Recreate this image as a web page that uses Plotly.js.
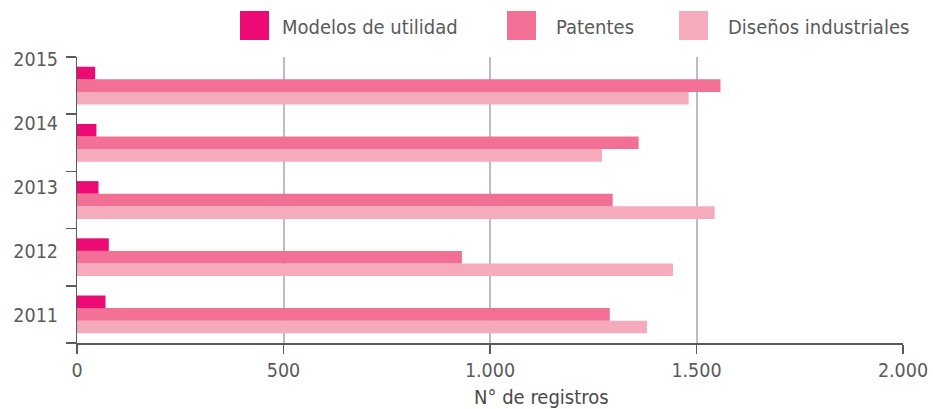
<!DOCTYPE html>
<html>
<head>
<meta charset="utf-8">
<script src="https://cdn.plot.ly/plotly-3.0.1.min.js"></script>
<style>html,body{margin:0;padding:0;background:#fff;}#chart{width:933px;height:409px;}</style>
</head>
<body>
<div id="chart"></div>
<script>
// ---- data ----
var years = ["2011", "2012", "2013", "2014", "2015"];
var yearTicks = [2011, 2012, 2013, 2014, 2015];
var seriesNames = ["Modelos de utilidad", "Patentes", "Diseños industriales"];
var modelos = [69, 77, 52, 47, 44];
var patentes = [1290, 932, 1297, 1360, 1558];
var disenos = [1380, 1443, 1544, 1271, 1481];
var xTickVals = [0, 500, 1000, 1500, 2000];
var xTickText = ["0", "500", "1.000", "1.500", "2.000"];
var xTitle = "N° de registros";

// ---- style ----
var colors = ["#EC0A74", "#F27096", "#F6ABBD"];
var FONT = "'DejaVu Sans Condensed', 'DejaVu Sans', sans-serif";
var TXT = "#5a5a5a";
var W = 933, H = 409;
var M = {l: 77, r: 30, t: 57, b: 66};
var PW = W - M.l - M.r, PH = H - M.t - M.b;
function px2x(px) { return (px - M.l) / PW; }
function py2y(py) { return (H - M.b - py) / PH; }

var traces = [
  {type: "bar", orientation: "h", name: seriesNames[2], y: years, x: disenos,
   marker: {color: colors[2]}, showlegend: false, hoverinfo: "x+name"},
  {type: "bar", orientation: "h", name: seriesNames[1], y: years, x: patentes,
   marker: {color: colors[1]}, showlegend: false, hoverinfo: "x+name"},
  {type: "bar", orientation: "h", name: seriesNames[0], y: years, x: modelos,
   marker: {color: colors[0]}, showlegend: false, hoverinfo: "x+name"},
  {type: "scatter", mode: "markers", x: [null], y: [null], yaxis: "y2",
   showlegend: false, hoverinfo: "skip", marker: {opacity: 0}}
];

// custom legend (large swatches like the reference)
var legendSw = [[240, 269], [507, 536], [679, 708]];
var legendTx = [280, 554, 726];
var shapes = [], annotations = [];
for (var i = 0; i < 3; i++) {
  shapes.push({type: "rect", xref: "paper", yref: "paper",
    x0: px2x(legendSw[i][0]), x1: px2x(legendSw[i][1]),
    y0: py2y(40), y1: py2y(11), fillcolor: colors[i], line: {width: 0}});
  annotations.push({xref: "paper", yref: "paper", x: px2x(legendTx[i]), y: py2y(27),
    xanchor: "left", yanchor: "middle", showarrow: false, text: seriesNames[i],
    font: {family: FONT, size: 20, color: TXT}});
}
annotations.push({xref: "paper", yref: "paper", x: px2x(541), y: py2y(397),
  xanchor: "center", yanchor: "middle", showarrow: false, text: xTitle,
  font: {family: FONT, size: 20, color: "#4a4a4a"}});

var layout = {
  width: W, height: H,
  margin: M,
  paper_bgcolor: "#fff", plot_bgcolor: "#fff",
  barmode: "group", bargap: 0.34, bargroupgap: 0,
  font: {family: FONT, color: TXT},
  showlegend: false,
  xaxis: {
    range: [0, 2000], tickvals: xTickVals, ticktext: xTickText,
    showgrid: true, gridcolor: "#bdbdbd", gridwidth: 2,
    zeroline: false, showline: true, linecolor: "#5a5a5a", linewidth: 1.5,
    ticks: "outside", ticklen: 9, tickwidth: 1.2, tickcolor: "#5a5a5a",
    tickfont: {family: FONT, size: 19.5, color: TXT}, fixedrange: true
  },
  yaxis: {
    type: "category", categoryarray: years,
    showticklabels: false, tickson: "boundaries",
    ticks: "outside", ticklen: 10, tickwidth: 1.5, tickcolor: "#5a5a5a",
    showline: true, linecolor: "#5a5a5a", linewidth: 1.5,
    showgrid: false, zeroline: false, fixedrange: true
  },
  yaxis2: {
    overlaying: "y", side: "left", anchor: "x",
    range: [2010.565, 2015.0265], tickvals: yearTicks, ticktext: years,
    ticks: "", showline: false, showgrid: false, zeroline: false,
    ticklabelstandoff: 18,
    tickfont: {family: FONT, size: 19.5, color: TXT}, fixedrange: true
  },
  shapes: shapes,
  annotations: annotations
};

Plotly.newPlot("chart", traces, layout, {displayModeBar: false, staticPlot: true});
</script>
</body>
</html>
